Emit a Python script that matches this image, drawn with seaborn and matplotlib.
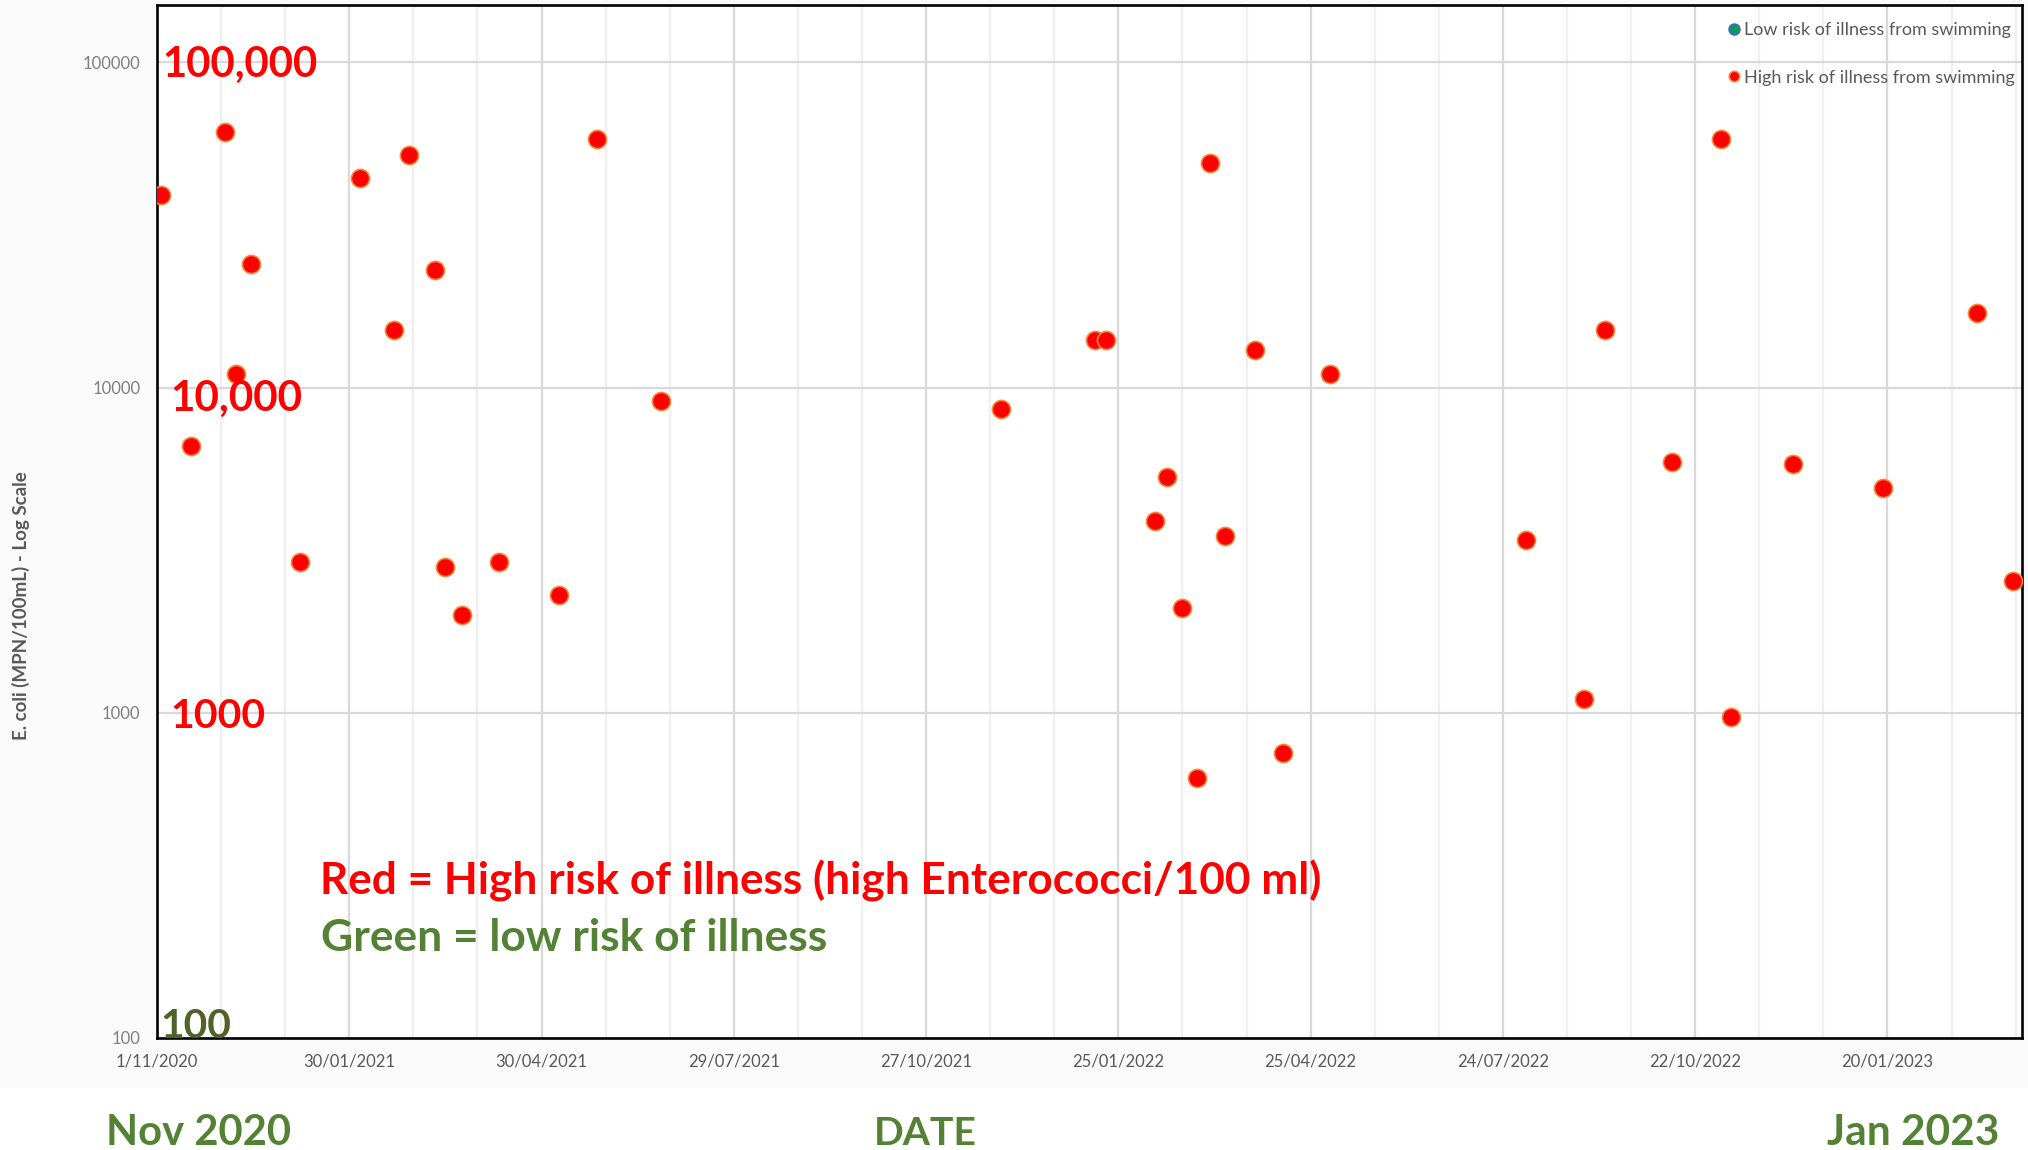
import numpy as np
import pandas as pd
import matplotlib
matplotlib.use("Agg")
import matplotlib.pyplot as plt
import seaborn as sns
from matplotlib.lines import Line2D
from matplotlib.patches import Rectangle
from matplotlib.ticker import FixedLocator, NullLocator

# ---------------- data ----------------
sample_dates = [
    "2020-11-03", "2020-11-17", "2020-12-03", "2020-12-08", "2020-12-15",
    "2021-01-07", "2021-02-04", "2021-02-20", "2021-02-27", "2021-03-11",
    "2021-03-16", "2021-03-24", "2021-04-10", "2021-05-08", "2021-05-26",
    "2021-06-25", "2021-12-01", "2022-01-14", "2022-01-19", "2022-02-11",
    "2022-02-17", "2022-02-24", "2022-03-03", "2022-03-09", "2022-03-16",
    "2022-03-30", "2022-04-12", "2022-05-04", "2022-08-04", "2022-08-31",
    "2022-09-10", "2022-10-11", "2022-11-03", "2022-11-08", "2022-12-07",
    "2023-01-18", "2023-03-03", "2023-03-20",
]
ecoli_values = [
    39000, 6600, 61000, 11000, 24000,
    2900, 44000, 15000, 52000, 23000,
    2800, 2000, 2900, 2300, 58000,
    9100, 8600, 14000, 14000, 3900,
    5300, 2100, 630, 49000, 3500,
    13000, 750, 11000, 3400, 1100,
    15000, 5900, 58000, 970, 5800,
    4900, 17000, 2550,
]
risk_levels = ["High risk of illness from swimming"] * len(ecoli_values)

legend_labels = ["Low risk of illness from swimming", "High risk of illness from swimming"]
x_tick_labels = ["1/11/2020", "30/01/2021", "30/04/2021", "29/07/2021", "27/10/2021",
                 "25/01/2022", "25/04/2022", "24/07/2022", "22/10/2022", "20/01/2023"]
y_tick_values = [100, 1000, 10000, 100000]
y_tick_labels = ["100", "1000", "10000", "100000"]
x_start, x_end = "2020-11-01", "2023-03-24"
y_min, y_max = 100, 150000

df = pd.DataFrame({"date": pd.to_datetime(sample_dates), "ecoli": ecoli_values, "risk": risk_levels})

# ---------------- figure ----------------
W, H = 2028, 1150
sns.set_theme(style="white")
plt.rcParams["font.family"] = ["Lato", "DejaVu Sans"]

fig = plt.figure(figsize=(W / 100, H / 100), dpi=100, facecolor="white")
fig.add_artist(Rectangle((0, 1 - 1088 / H), 1, 1088 / H, transform=fig.transFigure,
                         facecolor="#fafafa", edgecolor="none", zorder=-10))

ax = fig.add_axes([157 / W, 1 - 1038 / H, (2022 - 157) / W, (1038 - 5) / H])
ax.set_facecolor("white")

sns.scatterplot(data=df, x="date", y="ecoli", ax=ax, color="#ff0000",
                edgecolor="#f08a3c", linewidth=1.2, s=170, legend=False, zorder=5)

ax.set_yscale("log")
ax.set_ylim(y_min, y_max)
ax.set_xlim(pd.Timestamp(x_start), pd.Timestamp(x_end))

major_dates = pd.to_datetime(x_tick_labels, dayfirst=True)
ax.set_xticks(major_dates)
ax.set_xticklabels(x_tick_labels)
minor_dates = pd.date_range(x_start, x_end, freq="30D")
ax.set_xticks(minor_dates, minor=True)

ax.yaxis.set_major_locator(FixedLocator(y_tick_values))
ax.set_yticklabels(y_tick_labels)
ax.yaxis.set_minor_locator(NullLocator())

ax.grid(which="major", color="#d9d9d9", linewidth=1.6, zorder=0)
ax.grid(which="minor", axis="x", color="#efefef", linewidth=1.6, zorder=0)
ax.set_axisbelow(True)

ax.tick_params(axis="x", which="both", length=0, pad=11, labelsize=12, labelcolor="#595959")
ax.tick_params(axis="y", which="both", length=0, pad=12, labelsize=12, labelcolor="#7f7f7f")
for sp in ax.spines.values():
    sp.set_visible(True)
    sp.set_color("black")
    sp.set_linewidth(1.9)
ax.set_xlabel("")
ax.set_ylabel("")

# legend
handles = [
    Line2D([], [], marker="o", linestyle="none", markersize=7.5,
           markerfacecolor="#00a050", markeredgecolor="#3a6fc4", markeredgewidth=1.5),
    Line2D([], [], marker="o", linestyle="none", markersize=7.5,
           markerfacecolor="#ff0000", markeredgecolor="#f08a3c", markeredgewidth=1.2),
]
leg = ax.legend(handles, legend_labels, loc="upper right", frameon=False,
                bbox_to_anchor=(2015 / W, 1 - 22 / H), bbox_transform=fig.transFigure,
                fontsize=13, labelcolor="#595959", handletextpad=0.15, handlelength=0.8,
                labelspacing=1.75, borderpad=0, borderaxespad=0)

# ---------------- annotations ----------------
fig.canvas.draw()
renderer = fig.canvas.get_renderer()


def fitted_text(s, left, baseline, width, color, weight="bold", ha="left"):
    t = fig.text(left / W, 1 - baseline / H, s, fontsize=30, color=color,
                 fontweight=weight, ha=ha, va="baseline")
    bb = t.get_window_extent(renderer=renderer)
    t.set_fontsize(30 * width / bb.width)
    return t


RED = "#ff0000"
GREEN = "#548235"
OLIVE = "#4f6228"
fitted_text("100,000", 162, 77, 155, RED)
fitted_text("10,000", 170, 411, 132, RED)
fitted_text("1000", 170, 728, 95, RED)
fitted_text("100", 160, 1038, 71, OLIVE)
fitted_text("Red = High risk of illness (high Enterococci/100 ml)", 320, 894, 1001, RED)
fitted_text("Green = low risk of illness", 321, 951, 506, GREEN)
fitted_text("Nov 2020", 106, 1145, 185, GREEN)
fitted_text("DATE", 874, 1145, 103, GREEN)
fitted_text("Jan 2023", 1827, 1145, 172, GREEN)

yl = fig.text(21 / W, 1 - 606 / H, "E. coli (MPN/100mL) - Log Scale", fontsize=12,
              color="#595959", fontweight="bold", rotation=90, ha="center", va="center")
bb = yl.get_window_extent(renderer=renderer)
yl.set_fontsize(12 * 268 / bb.height)

fig.savefig("out.png", dpi=100, facecolor="white")
